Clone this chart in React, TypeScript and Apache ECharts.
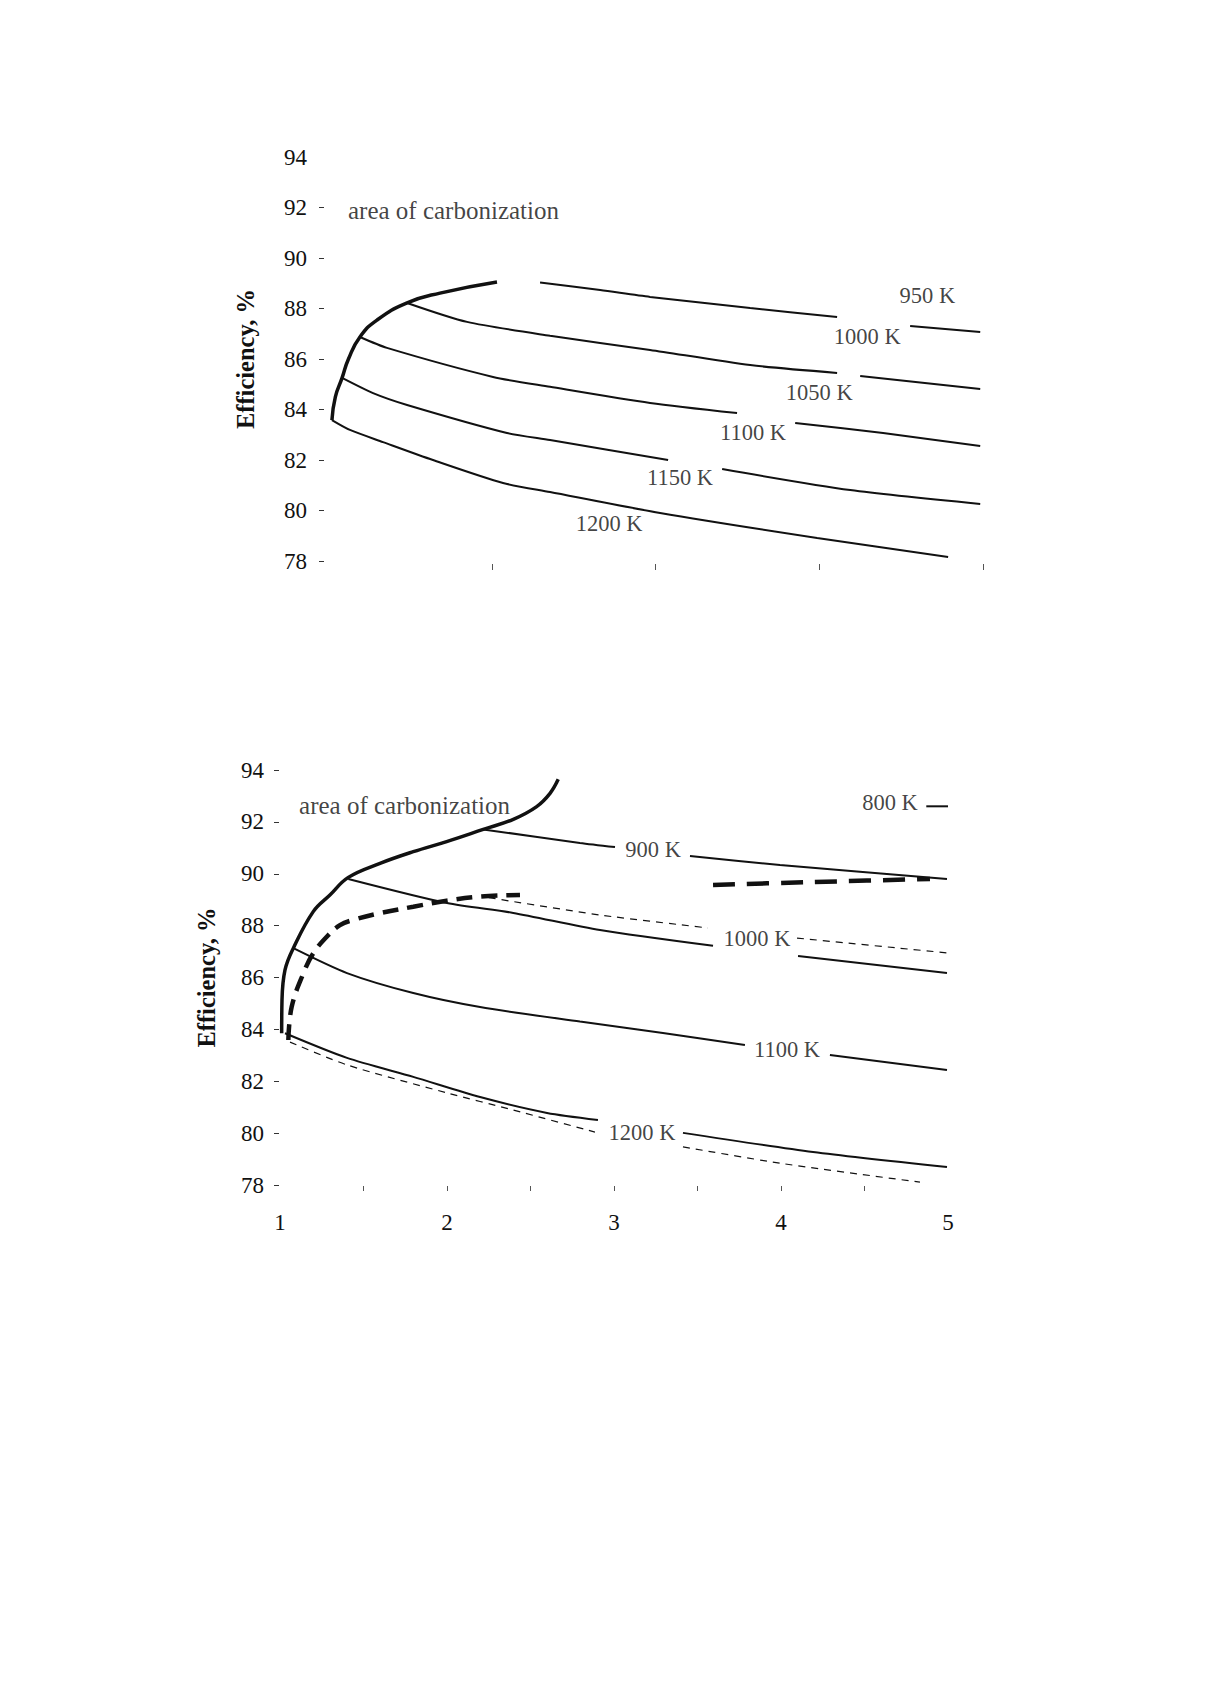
import React, { useEffect, useRef } from 'react';
import * as echarts from 'echarts';

type P = [number | string, number | string];
const GAP: P = ['-', '-'];

// ---------- Top chart (no x labels) ----------
const yTickValues = [78, 80, 82, 84, 86, 88, 90, 92, 94];
const xTickValues = [1, 2, 3, 4, 5];
const topYTickMarks = [78, 80, 82, 84, 86, 88, 90, 92];
const topXTickMarks = [2, 3, 4, 5];
const botXTickMarks = [1.5, 2, 2.5, 3, 3.5, 4, 4.5];

const topBoundary: P[] = [[1.024, 83.58], [1.045, 84.5], [1.086, 85.25], [1.125, 86.0], [1.195, 86.87], [1.299, 87.54], [1.483, 88.22], [1.684, 88.61], [2.032, 89.05]];
const top1000K: P[] = [[2.295, 89.03], [2.662, 88.73], [2.967, 88.46], [3.578, 88.02], [4.109, 87.66], GAP, [4.555, 87.31], [4.983, 87.07]];
const top1050K: P[] = [[1.483, 88.22], [1.849, 87.47], [2.356, 86.92], [2.967, 86.36], [3.578, 85.76], [4.109, 85.45], GAP, [4.25, 85.33], [4.983, 84.81]];
const top1100K: P[] = [[1.195, 86.87], [1.36, 86.44], [2.008, 85.29], [2.356, 84.9], [2.967, 84.26], [3.498, 83.86], GAP, [3.853, 83.47], [4.39, 83.07], [4.983, 82.55]];
const top1150K: P[] = [[1.086, 85.25], [1.275, 84.65], [1.483, 84.18], [2.093, 83.07], [2.356, 82.79], [3.077, 82.0], GAP, [3.407, 81.64], [4.189, 80.81], [4.983, 80.26]];
const top1200K: P[] = [[1.024, 83.58], [1.134, 83.19], [1.336, 82.71], [1.641, 82.0], [2.069, 81.09], [2.356, 80.73], [3.028, 79.9], [3.987, 78.91], [4.787, 78.16]];

const topLabels: [string, number, number][] = [
  ['950 K', 4.66, 88.53],
  ['1000 K', 4.293, 86.91],
  ['1050 K', 4.0, 84.69],
  ['1100 K', 3.596, 83.07],
  ['1150 K', 3.15, 81.29],
  ['1200 K', 2.717, 79.5],
];
const topAreaText: [string, number, number] = ['area of carbonization', 1.122, 91.9];

// ---------- Bottom chart ----------
const botBoundary: P[] = [[1.01, 83.85], [1.012, 85.13], [1.03, 86.29], [1.08, 87.13], [1.199, 88.54], [1.299, 89.18], [1.409, 89.86], [1.599, 90.4], [1.798, 90.85], [1.998, 91.24], [2.217, 91.71], [2.397, 92.1], [2.537, 92.59], [2.617, 93.1], [2.666, 93.64]];
const botDashedBoundary: P[] = [[1.05, 83.59], [1.07, 84.87], [1.14, 86.16], [1.199, 86.93], [1.28, 87.57], [1.359, 88.02], [1.439, 88.22], [1.599, 88.48], [1.798, 88.73], [1.998, 88.96], [2.198, 89.12], [2.437, 89.18]];
const botDashedUpper: P[] = [[3.593, 89.57], [4.192, 89.68], [4.892, 89.8]];
const bot800K: P[] = [[4.87, 92.6], [5.0, 92.6]];
const bot900K: P[] = [[2.217, 91.71], [2.796, 91.19], [3.006, 91.03], GAP, [3.455, 90.68], [3.994, 90.34], [4.994, 89.8]];
const bot1000K: P[] = [[1.409, 89.8], [2.0, 88.87], [2.397, 88.49], [2.916, 87.83], [3.593, 87.22], GAP, [4.102, 86.83], [4.994, 86.17]];
const bot1000KDashed: P[] = [[2.25, 89.08], [2.916, 88.41], [3.563, 87.91], GAP, [4.096, 87.52], [4.994, 86.95]];
const bot1100K: P[] = [[1.08, 87.13], [1.401, 86.17], [1.798, 85.4], [2.198, 84.86], [2.796, 84.3], [3.293, 83.86], [3.784, 83.4], GAP, [4.293, 83.01], [4.994, 82.43]];
const bot1200K: P[] = [[1.03, 83.85], [1.401, 82.9], [1.798, 82.17], [2.198, 81.39], [2.599, 80.78], [2.904, 80.51], GAP, [3.413, 80.01], [4.192, 79.27], [4.994, 78.69]];
const bot1200KDashed: P[] = [[1.06, 83.51], [1.401, 82.63], [2.0, 81.55], [2.397, 80.89], [2.886, 80.04], GAP, [3.413, 79.47], [3.994, 78.84], [4.832, 78.11]];

const botLabels: [string, number, number][] = [
  ['800 K', 4.653, 92.73],
  ['900 K', 3.234, 90.92],
  ['1000 K', 3.856, 87.49],
  ['1100 K', 4.036, 83.24],
  ['1200 K', 3.168, 80.01],
];
const botAreaText: [string, number, number] = ['area of carbonization', 1.114, 92.65];

const FONT = "'Liberation Serif', 'DejaVu Serif', serif";
const INK = '#111';

function line(data: P[], idx: number, width: number, dashed?: number[], smooth = 0.25) {
  return {
    type: 'line',
    xAxisIndex: idx,
    yAxisIndex: idx,
    data,
    symbol: 'none',
    smooth,
    connectNulls: false,
    silent: true,
    lineStyle: { color: INK, width, type: dashed ? dashed : 'solid', cap: 'butt' },
    z: 2,
  };
}

function labels(items: [string, number, number][], idx: number) {
  return {
    type: 'scatter',
    xAxisIndex: idx,
    yAxisIndex: idx,
    symbolSize: 0,
    silent: true,
    data: items.map(([t, x, y]) => ({ name: t, value: [x, y] })),
    label: { show: true, position: 'inside', formatter: '{b}', fontFamily: FONT, fontSize: 22.5, color: INK },
    z: 5,
  };
}

function areaText(item: [string, number, number], idx: number) {
  return {
    type: 'scatter',
    xAxisIndex: idx,
    yAxisIndex: idx,
    symbolSize: 0,
    silent: true,
    data: [{ name: item[0], value: [item[1], item[2]] }],
    label: { show: true, position: 'right', distance: 0, formatter: '{b}', fontFamily: FONT, fontSize: 25, color: INK },
    z: 5,
  };
}

function yAxis(idx: number, offset: number, margin: number, nameGap: number, tickMarks?: number[]) {
  return {
    type: 'value',
    gridIndex: idx,
    min: yTickValues[0],
    max: yTickValues[yTickValues.length - 1],
    interval: 2,
    offset,
    axisLine: { show: false },
    axisTick: { show: true, length: 5, lineStyle: { color: '#333', width: 1 }, ...(tickMarks ? { customValues: tickMarks } : {}) },
    splitLine: { show: false },
    axisLabel: { margin, fontFamily: FONT, fontSize: 23, color: INK },
    name: 'Efficiency, %',
    nameLocation: 'middle',
    nameGap,
    nameTextStyle: { fontFamily: FONT, fontSize: 24.5, fontWeight: 'bold', color: INK },
  };
}

export default function App() {
  const ref = useRef<HTMLDivElement>(null);
  useEffect(() => {
    if (!ref.current) return;
    const chart = echarts.init(ref.current, undefined, { renderer: 'svg' });
    chart.setOption({
      animation: false,
      backgroundColor: '#ffffff',
      grid: [
        { left: 328, top: 157, width: 655, height: 404 },
        { left: 280, top: 770, width: 668, height: 415 },
      ],
      xAxis: [
        {
          type: 'value', gridIndex: 0, min: xTickValues[0], max: xTickValues[xTickValues.length - 1], interval: 1, offset: 3,
          axisLine: { show: false },
          axisTick: { show: true, length: 6, lineStyle: { color: '#555', width: 1 }, customValues: topXTickMarks },
          axisLabel: { show: false },
          splitLine: { show: false },
        },
        {
          type: 'value', gridIndex: 1, min: xTickValues[0], max: xTickValues[xTickValues.length - 1], interval: 0.5, offset: 1,
          axisLine: { show: false },
          axisTick: { show: true, length: 5, lineStyle: { color: '#555', width: 1 }, customValues: botXTickMarks },
          axisLabel: {
            margin: 25, fontFamily: FONT, fontSize: 23, color: INK,
            formatter: (v: number) => (Number.isInteger(v) ? String(v) : ''),
          },
          splitLine: { show: false },
        },
      ],
      yAxis: [yAxis(0, 4, 17, 66, topYTickMarks), yAxis(1, 1, 15, 60)],
      series: [
        line(topBoundary, 0, 3.5, undefined, 0.5),
        line(top1000K, 0, 2),
        line(top1050K, 0, 2),
        line(top1100K, 0, 2),
        line(top1150K, 0, 2),
        line(top1200K, 0, 2),
        labels(topLabels, 0),
        areaText(topAreaText, 0),
        line(botBoundary, 1, 3.5, undefined, 0.4),
        line(botDashedBoundary, 1, 4.5, [16, 9], 0.4),
        line(botDashedUpper, 1, 4.5, [22, 12]),
        line(bot800K, 1, 2),
        line(bot900K, 1, 2),
        line(bot1000K, 1, 2),
        line(bot1000KDashed, 1, 1.2, [7, 6]),
        line(bot1100K, 1, 2),
        line(bot1200K, 1, 2),
        line(bot1200KDashed, 1, 1.2, [7, 6]),
        labels(botLabels, 1),
        areaText(botAreaText, 1),
      ],
    });
    return () => chart.dispose();
  }, []);
  return <div ref={ref} style={{ position: 'absolute', left: 0, top: 0, width: 1205, height: 1705 }} />;
}
